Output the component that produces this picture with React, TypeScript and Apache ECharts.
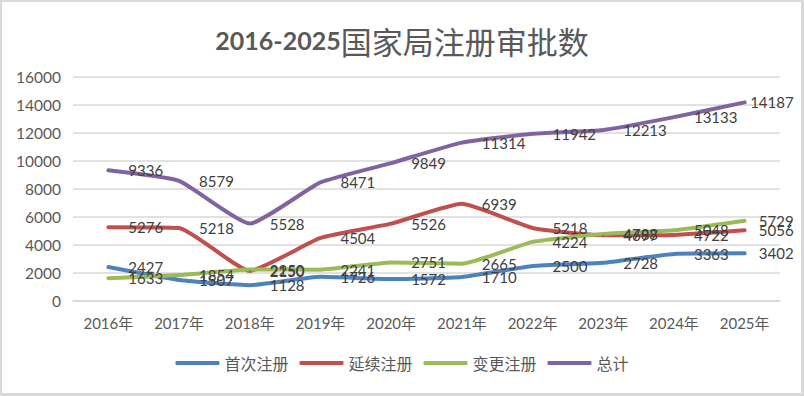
import React, { useEffect, useRef } from "react";
import * as echarts from "echarts";

const categories = ["2016年", "2017年", "2018年", "2019年", "2020年", "2021年", "2022年", "2023年", "2024年", "2025年"];
const firstReg = [2427, 1507, 1128, 1726, 1572, 1710, 2500, 2728, 3363, 3402];
const renewReg = [5276, 5218, 2150, 4504, 5526, 6939, 5218, 4697, 4722, 5056];
const changeReg = [1633, 1854, 2250, 2241, 2751, 2665, 4224, 4788, 5048, 5729];
const totalReg = [9336, 8579, 5528, 8471, 9849, 11314, 11942, 12213, 13133, 14187];
const seriesNames = ["首次注册", "延续注册", "变更注册", "总计"];
const colors = ["#4F81BD", "#C0504D", "#9BBB59", "#8064A2"];

const NUM_FONT = 'Lato, "Noto Sans CJK SC", sans-serif';
const CJK_FONT = '"Noto Sans CJK SC", sans-serif';

export default function App() {
  const ref = useRef<HTMLDivElement>(null);
  useEffect(() => {
    document.body.style.margin = "0";
    if (!ref.current) return;
    const chart = echarts.init(ref.current, undefined, { renderer: "svg" });
    const allData = [firstReg, renewReg, changeReg, totalReg];
    const last = categories.length - 1;
    const series = allData.map((arr, i) => ({
      name: seriesNames[i],
      type: "line",
      smooth: 0.15,
      symbol: "circle",
      symbolSize: 2,
      showSymbol: true,
      itemStyle: { color: colors[i] },
      lineStyle: { color: colors[i], width: 4, cap: "round", join: "round" },
      label: {
        show: true,
        position: "right",
        distance: 19,
        color: "#404040",
        fontSize: 15,
        fontFamily: NUM_FONT,
      },
      data: arr.map((v, j) =>
        j === last
          ? { value: v, label: { position: [50, 1], align: "right", verticalAlign: "middle" } }
          : v
      ),
    }));
    chart.setOption({
      animation: false,
      backgroundColor: "#ffffff",
      color: colors,
      title: {
        left: "center",
        top: 16,
        text: "{a|2016-2025}{b|国家局注册审批数}",
        textStyle: {
          rich: {
            a: { fontFamily: NUM_FONT, fontWeight: "bold", fontSize: 25, color: "#595959", lineHeight: 38 },
            b: { fontFamily: CJK_FONT, fontWeight: "normal", fontSize: 31, color: "#595959", lineHeight: 38 },
          },
        },
      },
      legend: {
        bottom: 20,
        left: "center",
        icon: "roundRect",
        itemWidth: 44,
        itemHeight: 4,
        itemGap: 11,
        textStyle: { fontFamily: CJK_FONT, fontSize: 16, color: "#595959" },
        data: seriesNames,
      },
      grid: { left: 73, right: 24, top: 77, bottom: 95, containLabel: false },
      xAxis: {
        type: "category",
        data: categories,
        boundaryGap: true,
        axisLine: { show: true, lineStyle: { color: "#D9D9D9", width: 1.5 } },
        axisTick: { show: false },
        axisLabel: { color: "#595959", fontSize: 15, fontFamily: NUM_FONT, margin: 14 },
      },
      yAxis: {
        type: "value",
        min: 0,
        max: 16000,
        interval: 2000,
        axisLine: { show: false },
        axisTick: { show: false },
        axisLabel: {
          color: "#595959",
          fontSize: 15.5,
          fontFamily: NUM_FONT,
          margin: 12,
          formatter: (v: number) => String(v),
        },
        splitLine: { lineStyle: { color: "#D9D9D9", width: 1.5 } },
      },
      series,
    });
    return () => chart.dispose();
  }, []);
  return (
    <div style={{ position: "relative", width: 804, height: 396 }}>
      <div ref={ref} style={{ position: "absolute", left: 0, top: 0, width: 804, height: 396 }} />
      <div
        style={{
          position: "absolute",
          left: 0,
          top: 0,
          width: 804,
          height: 396,
          boxSizing: "border-box",
          borderTop: "2px solid #D9D9D9",
          borderLeft: "2px solid #D9D9D9",
          borderRight: "3px solid #D9D9D9",
          borderBottom: "3px solid #D9D9D9",
          pointerEvents: "none",
        }}
      />
    </div>
  );
}
